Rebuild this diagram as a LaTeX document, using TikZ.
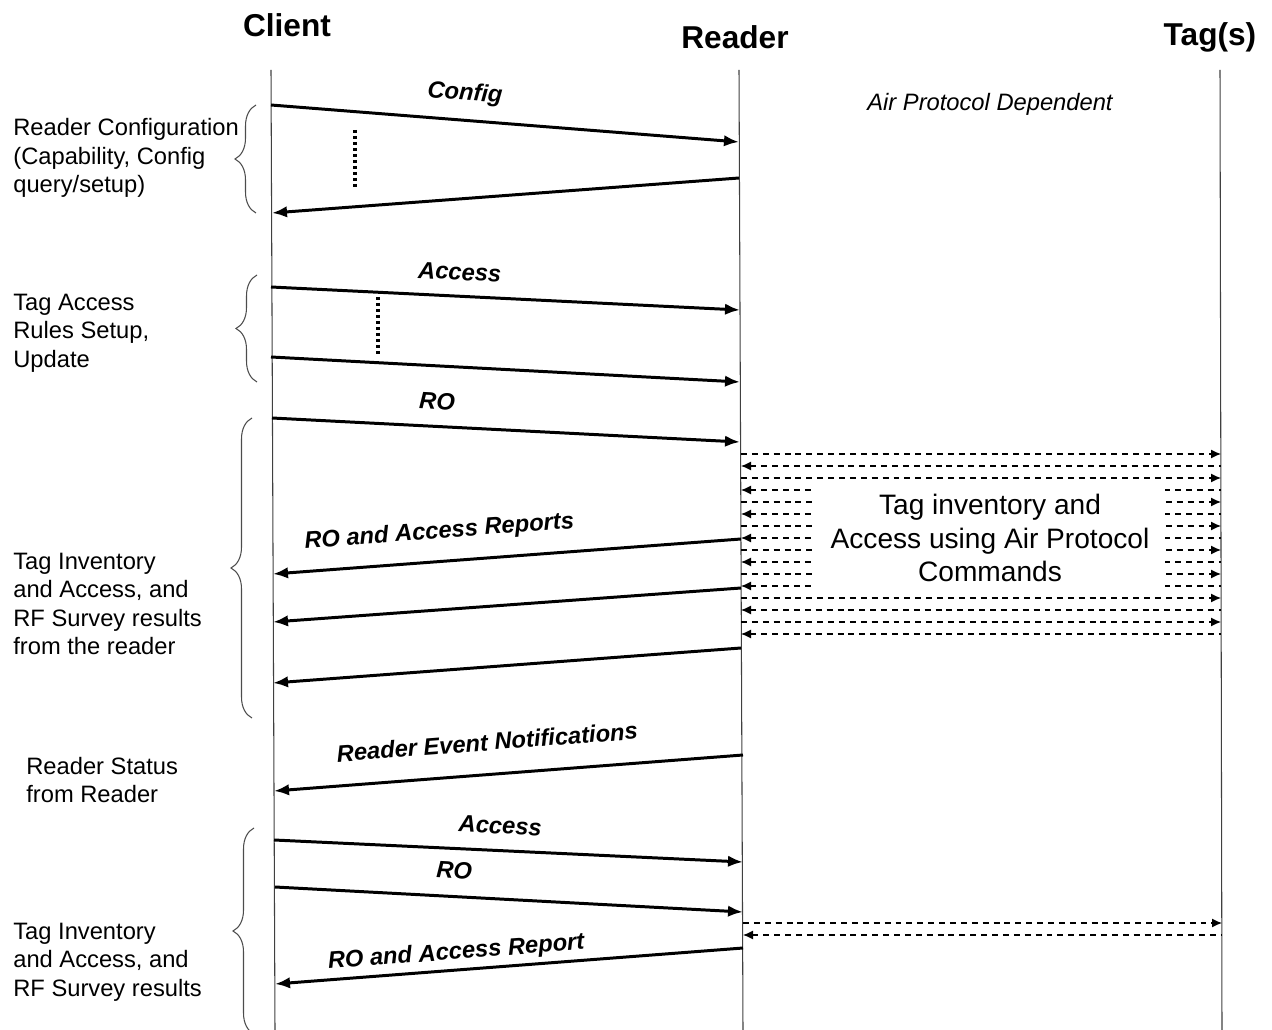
\documentclass[tikz,border=0pt]{standalone}
\usepackage{fontspec}
\setmainfont{Liberation Sans}
\usetikzlibrary{arrows.meta,positioning,decorations.pathreplacing}

\tikzset{
    actor/.style={font=\fontsize{18}{21}\selectfont\bfseries},
    lifeline/.style={draw=black!75, line width=0.6pt},
    msg/.style={line width=1.7pt, -{Latex[length=3mm,width=2.3mm]}},
    msgback/.style={line width=1.7pt, {Latex[length=3mm,width=2.3mm]}-},
    air/.style={line width=0.7pt, dash pattern=on 3.4pt off 2.8pt, -{Latex[length=2mm,width=1.8mm]}},
    airback/.style={line width=0.7pt, dash pattern=on 3.4pt off 2.8pt, {Latex[length=2mm,width=1.8mm]}-},
    msglabel/.style={font=\fontsize{13.5}{16}\selectfont\bfseries\itshape, sloped, text height=0.72em, text depth=0.2em},
    phase/.style={font=\fontsize{13.5}{16.2}\selectfont, align=left, anchor=west, inner xsep=0pt},
    group/.style={decorate, decoration={brace, amplitude=0.42cm}, draw=black!70, line width=0.6pt},
    waiting/.style={line width=1.8pt, dash pattern=on 1.8pt off 1.6pt},
}

\begin{document}
\begin{tikzpicture}[x=0.02cm, y=-0.02cm]
        \useasboundingbox (0,0) rectangle (1272,1030);
        % actors
        \node[actor] (client) at (287,25) {Client};
        \node[actor] (reader) at (735,37) {Reader};
        \node[actor] (tags) at (1210,37) {Tag(s)};
        \coordinate (client top) at (271,70);
        \coordinate (client bot) at (275,1030);
        \coordinate (reader top) at (739,70);
        \coordinate (reader bot) at (743,1030);
        \coordinate (tags top) at (1220,70);
        \coordinate (tags bot) at (1222,1030);
        \draw[lifeline] (client top) -- (client bot);
        \draw[lifeline] (reader top) -- (reader bot);
        \draw[lifeline] (tags top) -- (tags bot);

        % message end points
        \coordinate (c1) at (271,105);  \coordinate (r1) at (739,142);
        \coordinate (c2) at (272,213);  \coordinate (r2) at (739,178);
        \coordinate (c3) at (271,287);  \coordinate (r3) at (740,310);
        \coordinate (c4) at (271,357);  \coordinate (r4) at (740,382);
        \coordinate (c5) at (272,418);  \coordinate (r5) at (740,442);
        \coordinate (c6) at (273,574);  \coordinate (r6) at (741,539);
        \coordinate (c7) at (273,622);  \coordinate (r7) at (741,588);
        \coordinate (c8) at (273,683);  \coordinate (r8) at (741,648);
        \coordinate (c9) at (274,791);  \coordinate (r9) at (743,755);
        \coordinate (c10) at (274,840); \coordinate (r10) at (743,862);
        \coordinate (c11) at (275,887); \coordinate (r11) at (743,912);
        \coordinate (c12) at (275,984); \coordinate (r12) at (743,948);

        \draw[msg] (c1) -- node[msglabel, pos=0.41, above=5.3pt] {Config} (r1);
        \draw[msgback] (c2) -- (r2);
        \draw[waiting] (355,130) -- (355,187);
        \draw[msg] (c3) -- node[msglabel, pos=0.40, above=3pt] {Access} (r3);
        \draw[msg] (c4) -- (r4);
        \draw[waiting] (378,297) -- (378,355);
        \draw[msg] (c5) -- node[msglabel, pos=0.35, above=3.6pt] {RO} (r5);
        \draw[msgback] (c6) -- node[msglabel, pos=0.36, above=7pt] {RO and Access Reports} (r6);
        \draw[msgback] (c7) -- (r7);
        \draw[msgback] (c8) -- (r8);
        \draw[msgback] (c9) -- node[msglabel, pos=0.46, above=7.5pt] {Reader Event Notifications} (r9);
        \draw[msg] (c10) -- node[msglabel, pos=0.48, above=3.4pt] {Access} (r10);
        \draw[msg] (c11) -- node[msglabel, pos=0.38, above=3.9pt] {RO} (r11);
        \draw[msgback] (c12) -- node[msglabel, pos=0.39, above=0pt] {RO and Access Report} (r12);

        % air protocol exchange
        \node[font=\fontsize{13.5}{16}\selectfont\itshape] (airnote) at (990,104) {Air Protocol Dependent};
        \foreach \k in {0,...,15} {
            \coordinate (ra\k) at (741,{454+12*\k});
            \coordinate (ta\k) at (1221,{454+12*\k});
        }
        \foreach \k in {0,2,...,14} \draw[air] (ra\k) -- (ta\k);
        \foreach \k in {1,3,...,15} \draw[airback] (ra\k) -- (ta\k);
        \node[fill=white, minimum width=7.02cm, minimum height=2.1cm, align=center,
              font=\fontsize{16}{19}\selectfont] (airbox) at (990,538)
              {Tag inventory and\\Access using Air Protocol\\Commands};
        \coordinate (ra16) at (743,923); \coordinate (ta16) at (1222,923);
        \coordinate (ra17) at (743,935); \coordinate (ta17) at (1222,935);
        \draw[air] (ra16) -- (ta16);
        \draw[airback] (ra17) -- (ta17);

        % phases
        \draw[group] (256,213) -- (256,105);
        \node[phase] (config) at (13,158) {Reader Configuration\\(Capability, Config\\query/setup)};
        \draw[group] (257,382) -- (257,275);
        \node[phase] (rules) at (13,333) {Tag Access\\Rules Setup,\\Update};
        \draw[group] (252,718) -- (252,418);
        \node[phase] (inventory) at (13,604) {Tag Inventory\\and Access, and\\RF Survey results\\from the reader};
        \node[phase] (status) at (26,780) {Reader Status\\from Reader};
        \draw[group] (254,1034) -- (254,828);
        \node[phase] (inventory2) at (13,962) {Tag Inventory\\and Access, and\\RF Survey results};
\end{tikzpicture}
\end{document}
